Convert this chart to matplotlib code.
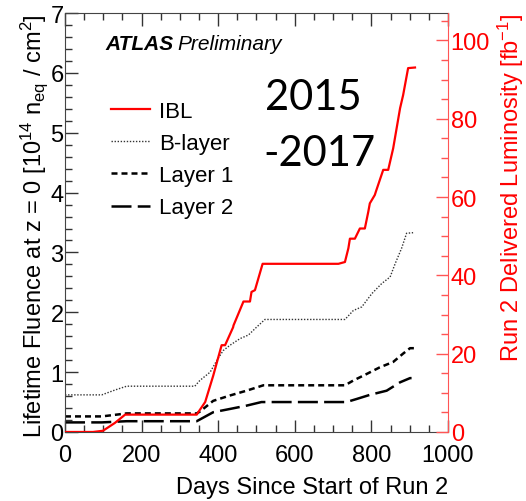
import matplotlib
matplotlib.use("Agg")
import matplotlib.pyplot as plt
from matplotlib.ticker import MultipleLocator

plt.rcParams['font.family'] = ['Liberation Sans', 'DejaVu Sans']
plt.rcParams['mathtext.fontset'] = 'custom'
plt.rcParams['mathtext.rm'] = 'Liberation Sans'
plt.rcParams['mathtext.it'] = 'Liberation Sans:italic'

# ---- data (days since start of Run 2, fluence in 1e14 neq/cm^2) ----
ibl_days = [0, 73, 99, 130, 157, 344, 348, 366, 387, 409, 418, 439, 440, 466, 483, 487, 496, 516,
            714, 731, 740, 744, 757, 770, 783, 792, 796, 809, 812, 831, 844, 857, 875, 883, 896, 914]
ibl_flu = [0.0, 0.0, 0.02, 0.15, 0.29, 0.29, 0.33, 0.50, 0.94, 1.45, 1.45, 1.75, 1.78, 2.18, 2.18, 2.34, 2.37, 2.81,
           2.81, 2.84, 3.07, 3.23, 3.23, 3.40, 3.40, 3.68, 3.82, 3.96, 4.02, 4.38, 4.38, 4.74, 5.41, 5.63, 6.08, 6.09]

bl_days = [0, 96, 130, 161, 339, 352, 379, 396, 413, 431, 457, 479, 500, 522, 731, 753, 775, 801, 827, 849,
           862, 879, 892, 909]
bl_flu = [0.62, 0.62, 0.70, 0.765, 0.765, 0.86, 1.00, 1.19, 1.36, 1.45, 1.56, 1.62, 1.75, 1.88, 1.88, 2.03,
          2.09, 2.31, 2.48, 2.59, 2.81, 3.07, 3.32, 3.33]

l1_days = [0, 96, 161, 344, 352, 387, 431, 474, 518, 731, 753, 788, 822, 857, 883, 901, 914]
l1_flu = [0.26, 0.26, 0.31, 0.31, 0.34, 0.52, 0.61, 0.69, 0.78, 0.78, 0.86, 0.97, 1.08, 1.17, 1.31, 1.40, 1.40]

l2_days = [0, 96, 161, 344, 387, 431, 474, 513, 735, 761, 796, 840, 875, 901, 905]
l2_flu = [0.16, 0.16, 0.18, 0.18, 0.33, 0.385, 0.44, 0.50, 0.50, 0.55, 0.62, 0.69, 0.83, 0.90, 0.90]

fig = plt.figure(figsize=(5.26, 5.02), dpi=100)
ax = fig.add_axes([0.1236, 0.1375, 0.728, 0.8345])

ax.plot(ibl_days, ibl_flu, color='red', lw=1.6, label='IBL', zorder=5)
ax.plot(bl_days, bl_flu, color='#333333', lw=1.0, ls=(0, (1, 1.2)), label='B-layer')
ax.plot(l1_days, l1_flu, color='black', lw=1.8, ls=(0, (2.4, 1.6)), label='Layer 1')
ax.plot(l2_days, l2_flu, color='black', lw=1.8, ls=(0, (8, 2.5)), label='Layer 2')

ax.set_xlim(0, 1000)
ax.set_ylim(0, 7)
ax.xaxis.set_major_locator(MultipleLocator(200))
ax.xaxis.set_minor_locator(MultipleLocator(50))
ax.yaxis.set_major_locator(MultipleLocator(1))
ax.yaxis.set_minor_locator(MultipleLocator(0.2))
ax.tick_params(which='both', direction='in', top=True, right=False, labelsize=17, colors='#333333',
               labelcolor='black')
ax.tick_params(axis='x', which='both', pad=9)
ax.tick_params(axis='y', which='both', pad=1)
ax.tick_params(which='major', length=9, width=1)
ax.tick_params(which='minor', length=5, width=1)
for s in ['left', 'bottom', 'top']:
    ax.spines[s].set_color('#444444')
ax.spines['right'].set_visible(False)

ax.set_xlabel('Days Since Start of Run 2', fontsize=17, loc='right', labelpad=7)
ax.set_ylabel(r'Lifetime Fluence at z = 0 [10$^{14}$ n$_{\mathrm{eq}}$ / cm$^{2}$]', fontsize=17,
              loc='top', labelpad=0)

ax2 = ax.twinx()
ax2.set_ylim(0, 107)
ax2.yaxis.set_major_locator(MultipleLocator(20))
ax2.yaxis.set_minor_locator(MultipleLocator(5))
ax2.tick_params(which='both', direction='in', colors='#ff5555', labelcolor='red', labelsize=17, pad=2)
ax2.tick_params(which='major', length=9, width=1)
ax2.tick_params(which='minor', length=5, width=1)
for s in ['left', 'bottom', 'top']:
    ax2.spines[s].set_visible(False)
ax2.spines['right'].set_color('#ff5555')
ax2.set_ylabel(r'Run 2 Delivered Luminosity [fb$^{-1}$]', color='red', fontsize=17, loc='top', labelpad=4)

fig.text(105 / 526, 1 - 45 / 502, 'ATLAS', fontsize=15, fontweight='bold', style='italic',
         va='center', ha='left')
fig.text(177 / 526, 1 - 45 / 502, 'Preliminary', fontsize=15, style='italic',
         va='center', ha='left')

fig.text(265 / 526, 1 - 98 / 502, '2015', fontsize=30, family=['Lato', 'DejaVu Sans'], va='center', ha='left')
fig.text(263 / 526, 1 - 154 / 502, '-2017', fontsize=30, family=['Lato', 'DejaVu Sans'], va='center', ha='left')

leg = ax.legend(loc='upper left', bbox_to_anchor=(0.121, 0.79), frameon=False, fontsize=16,
                handlelength=1.75, handletextpad=0.4, labelspacing=0.5, borderaxespad=0, borderpad=0)

fig.savefig('out.png', dpi=100)
